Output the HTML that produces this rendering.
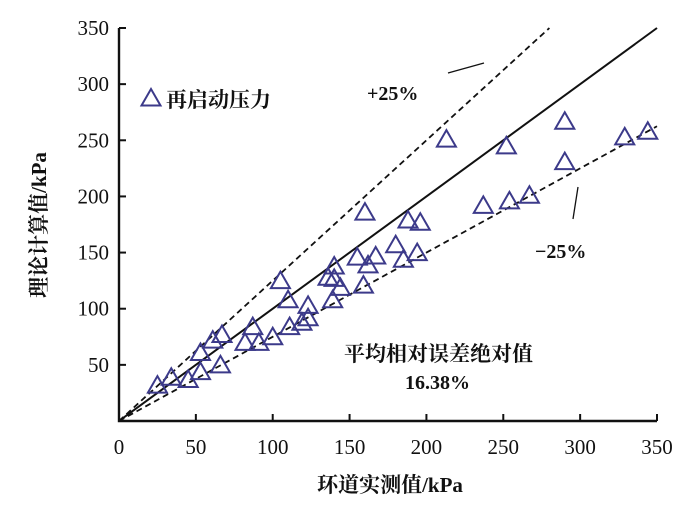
<!DOCTYPE html>
<html><head><meta charset="utf-8"><style>
body{margin:0;background:#fff}
svg text{font-family:"Liberation Serif","Noto Serif CJK SC",serif;fill:#111}
</style></head><body>
<svg width="700" height="509" viewBox="0 0 700 509">
<g id="plot"></g>
</svg>
<script>
const xTicks=[0,50,100,150,200,250,300,350];
const yTicks=[50,100,150,200,250,300,350];
const measured=[25,34,45,53,53,61,67,66,82,87,91,100,105,110,111,119,123,123,136,140,140,139,144,155,160,159,162,167,180,185,188,194,196,213,237,252,254,267,290,290,329,344];
const computed=[32,39,37,44,61,72,77,50,70,84,70,75,125,108,84,88,103,92,128,138,127,108,119,146,186,121,139,147,157,144,179,150,177,251,192,245,196,201,267,231,253,258];
const X0=119,Y0=421,XS=(657-119)/350,YS=(421-28)/350;
const sx=v=>X0+v*XS, sy=v=>Y0-v*YS;
const g=document.getElementById('plot');const NS='http://www.w3.org/2000/svg';
function mk(t,a,p){const e=document.createElementNS(NS,t);for(const k in a)e.setAttribute(k,a[k]);(p||g).appendChild(e);return e;}
let e;
e=mk('line',{x1:sx(0),y1:sy(0),x2:sx(350),y2:sy(350),stroke:'#111','stroke-width':2});

e=mk('line',{x1:sx(0),y1:sy(0),x2:sx(280),y2:sy(350),stroke:'#111','stroke-width':1.8,'stroke-dasharray':'6,4'});

e=mk('line',{x1:sx(0),y1:sy(0),x2:sx(350),y2:sy(262.5),stroke:'#111','stroke-width':1.8,'stroke-dasharray':'6,4'});

e=mk('path',{d:`M${X0},${sy(350)} V${Y0} H${sx(350)}`,fill:'none',stroke:'#111','stroke-width':2.4});

xTicks.forEach(v=>{
 if(v>0){const t=mk('line',{x1:sx(v),y1:Y0,x2:sx(v),y2:Y0-7,stroke:'#111','stroke-width':2});
 }
 const l=mk('text',{x:sx(v),y:Y0+33,'text-anchor':'middle','font-size':21});l.textContent=v;
 
});
yTicks.forEach(v=>{
 const t=mk('line',{x1:X0,y1:sy(v),x2:X0+7,y2:sy(v),stroke:'#111','stroke-width':2});
 
 const l=mk('text',{x:X0-10,y:sy(v)+7,'text-anchor':'end','font-size':21});l.textContent=v;
 
});
function tri(cx,cy){return `M${cx},${cy-9} L${cx+9.5},${cy+7.5} L${cx-9.5},${cy+7.5} Z`;}
measured.forEach((m,i)=>{
 const p=mk('path',{d:tri(sx(m),sy(computed[i])),fill:'none',stroke:'#3c3a8a','stroke-width':2});
 
});
e=mk('path',{d:tri(151,98),fill:'none',stroke:'#3c3a8a','stroke-width':2});

function txt(x,y,s,sz,name,extra){const t=mk('text',Object.assign({x:x,y:y,'font-size':sz},extra||{}));t.textContent=s;
 return t;}
txt(166,107,'再启动压力',21,'legend-label',{'font-weight':'bold'});
txt(367,100,'+25%',20,'plus-25-label',{'font-weight':'bold'});
e=mk('line',{x1:448,y1:73,x2:484,y2:63,stroke:'#111','stroke-width':1.3});

txt(535,258,'−25%',20,'minus-25-label',{'font-weight':'bold'});
e=mk('line',{x1:573,y1:219,x2:578,y2:187,stroke:'#111','stroke-width':1.3});

txt(344,361,'平均相对误差绝对值',21,'mare-label',{'font-weight':'bold'});
txt(405,389,'16.38%',20,'mare-value',{'font-weight':'bold'});
txt(390,492,'环道实测值/kPa',21,'x-axis-title',{'text-anchor':'middle','font-weight':'bold'});
txt(0,0,'理论计算值/kPa',21,'y-axis-title',{'text-anchor':'middle','font-weight':'bold',transform:'translate(46,225) rotate(-90)'});
</script>
</body></html>
